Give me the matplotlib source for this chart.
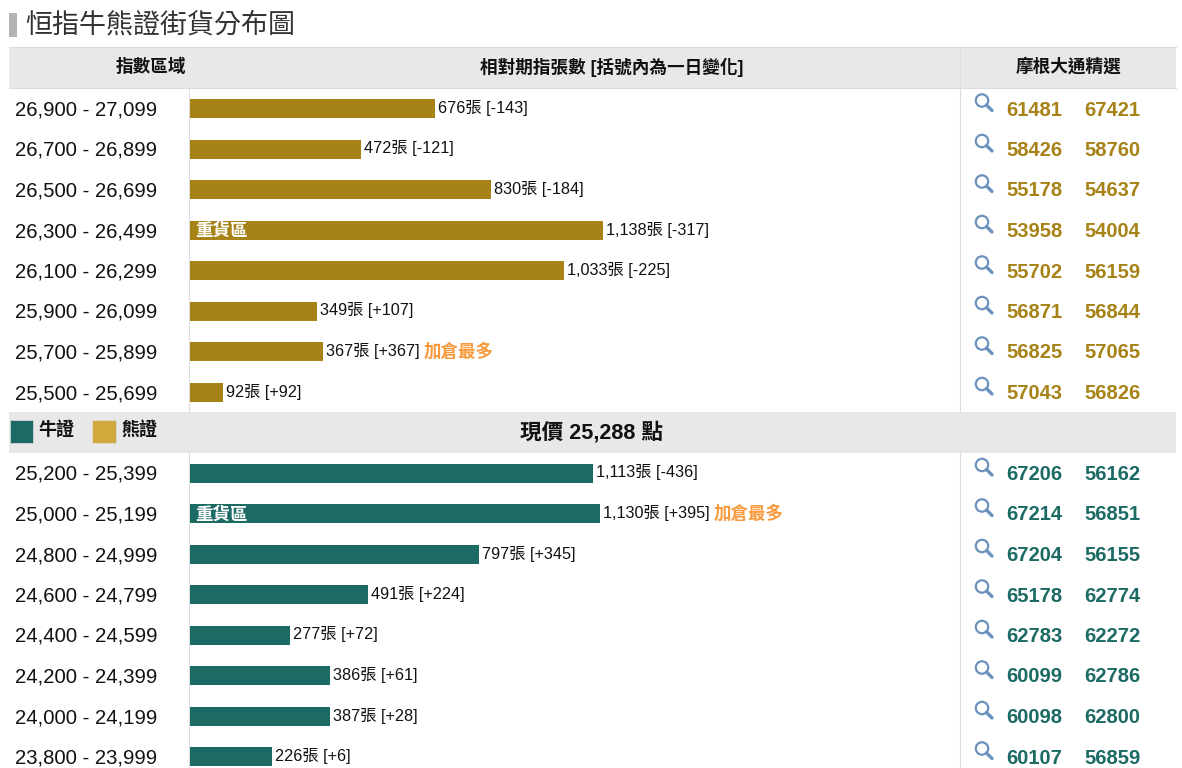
import matplotlib
matplotlib.use("Agg")
import matplotlib.pyplot as plt
from matplotlib.patches import Rectangle, Circle
from matplotlib.lines import Line2D

plt.rcParams['font.family'] = ['Liberation Sans', 'Noto Sans CJK TC', 'DejaVu Sans']

title = "恒指牛熊證街貨分布圖"
headers = ["指數區域", "相對期指張數 [括號內為一日變化]", "摩根大通精選"]
price_label = "現價 25,288 點"
legend_names = ["牛證", "熊證"]

bear_ranges = ["26,900 - 27,099", "26,700 - 26,899", "26,500 - 26,699", "26,300 - 26,499",
               "26,100 - 26,299", "25,900 - 26,099", "25,700 - 25,899", "25,500 - 25,699"]
bear_values = [676, 472, 830, 1138, 1033, 349, 367, 92]
bear_changes = [-143, -121, -184, -317, -225, 107, 367, 92]
bear_codes = [("61481", "67421"), ("58426", "58760"), ("55178", "54637"), ("53958", "54004"),
              ("55702", "56159"), ("56871", "56844"), ("56825", "57065"), ("57043", "56826")]
bear_heavy = 3
bear_most = 6

bull_ranges = ["25,200 - 25,399", "25,000 - 25,199", "24,800 - 24,999", "24,600 - 24,799",
               "24,400 - 24,599", "24,200 - 24,399", "24,000 - 24,199", "23,800 - 23,999"]
bull_values = [1113, 1130, 797, 491, 277, 386, 387, 226]
bull_changes = [-436, 395, 345, 224, 72, 61, 28, 6]
bull_codes = [("67206", "56162"), ("67214", "56851"), ("67204", "56155"), ("65178", "62774"),
              ("62783", "62272"), ("60099", "62786"), ("60098", "62800"), ("60107", "56859")]
bull_heavy = 1
bull_most = 1

BEAR = "#A78217"
BULL = "#1C6A64"
BEAR_KEY = "#CFA93C"
ORANGE = "#F79A3E"
BAND = "#E8E8E8"
LINE = "#DCDCDC"
ICON = "#6A92BC"

W, H = 1182, 768
PT = 0.72  # css px to pt at dpi 100
PX_PER_UNIT = 412.5 / 1138
ROW0, ROW = 108.5, 40.5
BAR_LEFT, BAR_W = 190, 770

fig = plt.figure(figsize=(W / 100, H / 100), dpi=100, facecolor="white")

# page layout in pixel coordinates
bg = fig.add_axes([0, 0, 1, 1])
bg.set_xlim(0, W)
bg.set_ylim(H, 0)
bg.axis("off")

bg.add_patch(Rectangle((9, 13), 8, 24, color="#B4B4B4", lw=0))
bg.text(25.5, 25, title, fontsize=27 * PT, color="#333333", va="center", ha="left",
        family=['Noto Sans CJK TC'], fontweight="light")

bg.add_patch(Rectangle((9, 47), 1167, 42, facecolor=BAND, edgecolor="none"))
bg.plot([9, 1176], [47, 47], color=LINE, lw=0.8)
bg.plot([9, 1176], [88, 88], color=LINE, lw=0.8)
bg.add_patch(Rectangle((9, 412), 1167, 41, facecolor=BAND, edgecolor="none"))
for x in (189, 960):
    bg.plot([x, x], [89, 412], color=LINE, lw=0.8)
    bg.plot([x, x], [453, H], color=LINE, lw=0.8)
bg.plot([960, 960], [47, 89], color=LINE, lw=0.8)

for text, x in zip(headers, (151, 612, 1068)):
    bg.text(x, 67, text, fontsize=17.6 * PT, fontweight="bold", color="#111111", ha="center", va="center")

bg.text(592, 432.5, price_label, fontsize=21.6 * PT, fontweight="bold", color="#111111", ha="center", va="center")
for x, tx, color, name in zip((9.5, 92), (38, 121), (BULL, BEAR_KEY), legend_names):
    bg.add_patch(Rectangle((x, 420), 23.5, 23, facecolor=color, edgecolor="#E0E0E0", lw=0.5))
    bg.text(tx, 430, name, fontsize=18 * PT, fontweight="bold", color="#111111", ha="left", va="center")


def row_y(i):
    return ROW0 + ROW * i


def magnifier(y):
    cy = y - 8
    bg.add_patch(Circle((982, cy), 6.2, facecolor="none", edgecolor=ICON, lw=1.6))
    bg.add_line(Line2D([986.5, 992], [cy + 4.5, cy + 10], color=ICON, lw=2.4, solid_capstyle="round"))


# bars on a value axis
ax = fig.add_axes([BAR_LEFT / W, 0, BAR_W / W, 1])
ax.set_xlim(0, BAR_W / PX_PER_UNIT)
ax.set_ylim((H - ROW0) / ROW, -ROW0 / ROW)
ax.axis("off")
ax.patch.set_alpha(0)


def draw_group(start, ranges, values, changes, codes, color, heavy, most):
    for k, (rng, val, chg, pair) in enumerate(zip(ranges, values, changes, codes)):
        i = start + k
        y = row_y(i)
        ax.barh(i, val, height=19 / ROW, color=color, linewidth=0)
        label = f"{val:,}張 [{chg:+d}]"
        t = ax.annotate(label, xy=(val, i), xytext=(3, 0.5), textcoords="offset pixels",
                        fontsize=16.2 * PT, color="#111111", ha="left", va="center")
        if k == heavy:
            ax.annotate("重貨區", xy=(0, i), xytext=(5, -1), textcoords="offset pixels",
                        fontsize=17.5 * PT, fontweight="bold", color="white", ha="left", va="center")
        if k == most:
            ax.annotate("加倉最多", xy=(1, 0.5), xycoords=t, xytext=(4, 0), textcoords="offset pixels",
                        fontsize=17.5 * PT, fontweight="bold", color=ORANGE, ha="left", va="center")
        bg.text(15, y + 1.5, rng, fontsize=20.3 * PT, color="#111111", ha="left", va="center")
        magnifier(y)
        bg.text(1006.5, y + 1.5, pair[0], fontsize=20.2 * PT, fontweight="bold", color=color, ha="left", va="center")
        bg.text(1084.5, y + 1.5, pair[1], fontsize=20.2 * PT, fontweight="bold", color=color, ha="left", va="center")


draw_group(0, bear_ranges, bear_values, bear_changes, bear_codes, BEAR, bear_heavy, bear_most)
draw_group(9, bull_ranges, bull_values, bull_changes, bull_codes, BULL, bull_heavy, bull_most)

fig.savefig("out.png", dpi=100)
